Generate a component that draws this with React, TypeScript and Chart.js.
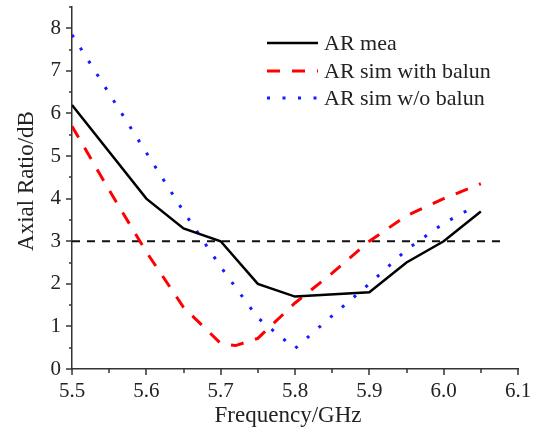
import React, { useEffect, useRef } from "react";
import { Chart, registerables } from "chart.js";

Chart.register(...registerables);

// ---- data ----
const freqMea = [5.5, 5.6, 5.65, 5.7, 5.75, 5.8, 5.9, 5.95, 6.0, 6.05];
const arMea = [6.2, 4.0, 3.3, 3.0, 2.0, 1.7, 1.8, 2.5, 3.0, 3.7];

const freqWith = [5.5, 5.55, 5.6, 5.65, 5.7, 5.72, 5.75, 5.8, 5.85, 5.9, 5.95, 6.0, 6.05];
const arWith = [5.7, 4.2, 2.75, 1.45, 0.6, 0.55, 0.72, 1.55, 2.25, 3.0, 3.6, 4.0, 4.35];

const freqWo = [5.5, 5.55, 5.6, 5.65, 5.7, 5.75, 5.8, 5.85, 5.9, 5.95, 6.0, 6.04];
const arWo = [7.85, 6.47, 5.08, 3.7, 2.4, 1.2, 0.48, 1.25, 2.0, 2.8, 3.42, 3.8];

const freqRef = [5.5, 6.08];
const arRef = [3, 3];

const seriesLabels = ["AR mea", "AR sim with balun", "AR sim w/o balun"];
const xTitle = "Frequency/GHz";
const yTitle = "Axial Ratio/dB";

const xMin = 5.5, xMax = 6.1, xStep = 0.1, xMinorStep = 0.05;
const yMin = 0, yMax = 8.5, yStep = 1, yMinorStep = 0.5;

const SERIF = "'Liberation Serif', 'Times New Roman', serif";
const TEXT = "#222";

const toXY = (xs: number[], ys: number[]) => xs.map((x, i) => ({ x, y: ys[i] }));

const decorPlugin = {
  id: "decor",
  afterDraw(chart: any) {
    const { ctx, chartArea } = chart;
    const xs = chart.scales.x;
    const ys = chart.scales.y;
    ctx.save();
    // axis ticks
    ctx.strokeStyle = "#333";
    ctx.lineWidth = 1.5;
    ctx.setLineDash([]);
    const nx = Math.round((xMax - xMin) / xMinorStep);
    for (let i = 0; i <= nx; i++) {
      const v = xMin + i * xMinorStep;
      const px = Math.round(xs.getPixelForValue(v)) + 0.0;
      const major = i % 2 === 0;
      ctx.beginPath();
      ctx.moveTo(px, chartArea.bottom);
      ctx.lineTo(px, chartArea.bottom + (major ? 6 : 4));
      ctx.stroke();
    }
    const ny = Math.floor((yMax - yMin) / yMinorStep + 1e-9);
    for (let i = 0; i <= ny; i++) {
      const v = yMin + i * yMinorStep;
      const py = Math.round(ys.getPixelForValue(v));
      const major = i % 2 === 0;
      ctx.beginPath();
      ctx.moveTo(chartArea.left, py);
      ctx.lineTo(chartArea.left - (major ? 6 : 3), py);
      ctx.stroke();
    }

    // legend
    const ds = chart.data.datasets;
    const lx0 = 267, lx1 = 318, tx = 324;
    const rowsY = [43, 71, 98];
    for (let i = 0; i < 3; i++) {
      const d = ds[i];
      const y = rowsY[i];
      ctx.strokeStyle = d.borderColor;
      ctx.lineWidth = d.borderWidth;
      ctx.setLineDash(d.borderDash || []);
      ctx.lineDashOffset = 0;
      ctx.beginPath();
      ctx.moveTo(lx0, y);
      ctx.lineTo(lx1, y);
      ctx.stroke();
      ctx.setLineDash([]);
      ctx.fillStyle = TEXT;
      ctx.font = `22px ${SERIF}`;
      ctx.textAlign = "left";
      ctx.textBaseline = "middle";
      ctx.fillText(d.label, tx, y + 1);
    }

    // axis titles
    ctx.fillStyle = TEXT;
    ctx.font = `23px ${SERIF}`;
    ctx.textAlign = "center";
    ctx.textBaseline = "middle";
    ctx.fillText(xTitle, 288, 416);
    ctx.save();
    ctx.translate(27, 181);
    ctx.rotate(-Math.PI / 2);
    ctx.fillText(yTitle, 0, 0);
    ctx.restore();
    ctx.restore();
  },
};

export default function App() {
  const ref = useRef<HTMLCanvasElement | null>(null);
  useEffect(() => {
    if (!ref.current) return;
    const chart = new Chart(ref.current, {
      type: "line",
      data: {
        datasets: [
          {
            label: seriesLabels[0],
            data: toXY(freqMea, arMea),
            borderColor: "#000000",
            borderWidth: 2.5,
            borderDash: [],
            pointRadius: 0,
            tension: 0,
            fill: false,
          },
          {
            label: seriesLabels[1],
            data: toXY(freqWith, arWith),
            borderColor: "#ff0000",
            borderWidth: 3,
            borderDash: [13, 12],
            pointRadius: 0,
            tension: 0,
            fill: false,
          },
          {
            label: seriesLabels[2],
            data: toXY(freqWo, arWo),
            borderColor: "#1a1aff",
            borderWidth: 3,
            borderDash: [3, 12.5],
            pointRadius: 0,
            tension: 0,
            fill: false,
          },
          {
            label: "3 dB",
            data: toXY(freqRef, arRef),
            borderColor: "#111111",
            borderWidth: 2,
            borderDash: [8, 7],
            pointRadius: 0,
            tension: 0,
            fill: false,
          },
        ],
      },
      options: {
        responsive: false,
        animation: false,
        events: [],
        layout: { padding: { left: 0, right: 16, top: 7, bottom: 0 } },
        plugins: { legend: { display: false }, tooltip: { enabled: false }, title: { display: false } },
        scales: {
          x: {
            type: "linear",
            min: xMin,
            max: xMax,
            grid: { display: false, drawTicks: false },
            border: { display: true, color: "#333", width: 1.5 },
            ticks: {
              stepSize: xStep,
              padding: 10,
              color: TEXT,
              font: { family: SERIF, size: 21 },
              maxRotation: 0,
              callback: (v: any) => Number(v).toFixed(1),
            },
            afterFit: (s: any) => {
              s.height = 65;
              s.paddingLeft = 0;
              s.paddingRight = 0;
            },
          },
          y: {
            type: "linear",
            min: yMin,
            max: yMax,
            grid: { display: false, drawTicks: false },
            border: { display: true, color: "#333", width: 1.5 },
            ticks: {
              stepSize: yStep,
              includeBounds: false,
              padding: 11,
              color: TEXT,
              font: { family: SERIF, size: 21 },
              callback: (v: any) => String(Math.round(Number(v))),
            },
            afterFit: (s: any) => {
              s.width = 72;
              s.paddingTop = 0;
              s.paddingBottom = 0;
            },
          },
        },
      },
      plugins: [decorPlugin],
    } as any);
    return () => chart.destroy();
  }, []);
  return (
    <div style={{ position: "absolute", left: 0, top: 0, width: 534, height: 434, background: "#fff" }}>
      <canvas ref={ref} width={534} height={434} style={{ width: 534, height: 434, display: "block" }} />
    </div>
  );
}
